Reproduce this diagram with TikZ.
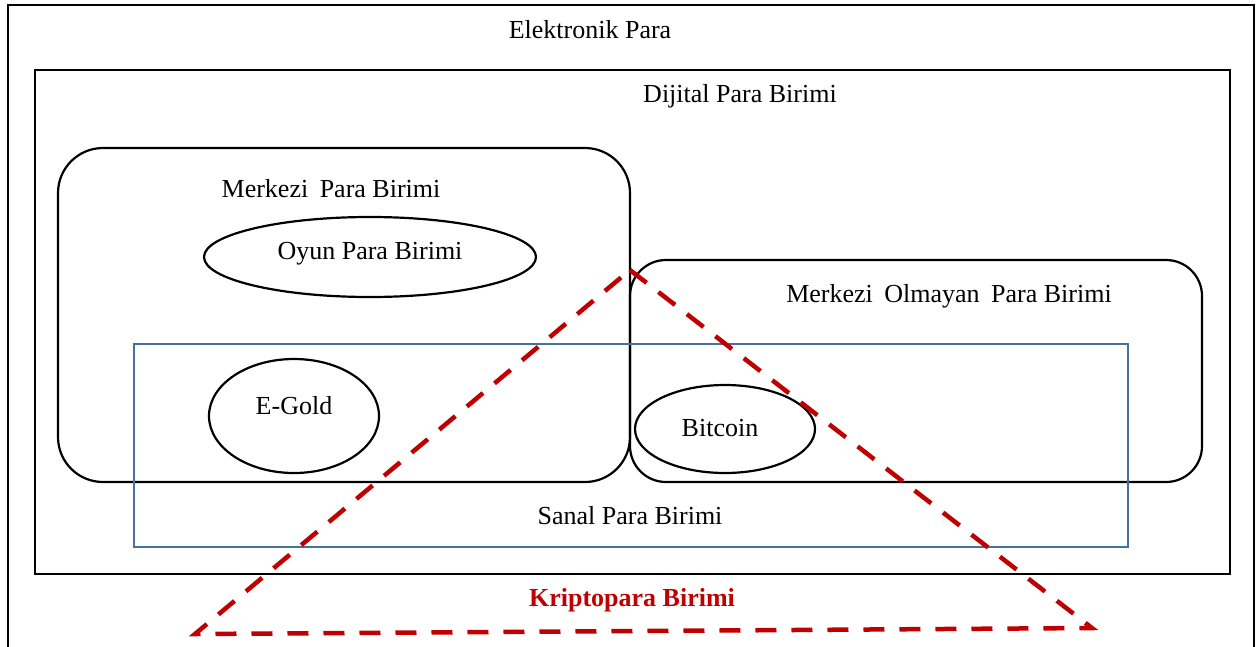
\documentclass[tikz,border=0pt]{standalone}
\usepackage{fontspec}
\setmainfont{Liberation Serif}
\usetikzlibrary{shapes.geometric}
\definecolor{cryptored}{RGB}{192,0,0}
\definecolor{virtualblue}{RGB}{70,114,160}
\newcommand{\widegap}{\ \hspace{5pt}}
\tikzset{
  label text/.style={font=\fontsize{26}{31}\selectfont, inner sep=0pt, anchor=center},
  frame/.style={draw=black, line width=2.6pt, inner sep=0pt},
  group box/.style={draw=black, line width=2.2pt, rectangle, inner sep=0pt},
  coin/.style={draw=black, line width=2.2pt, ellipse, inner sep=0pt},
  crypto/.style={draw=cryptored, line width=4.5pt, dash pattern=on 21pt off 15pt},
}
\begin{document}
\begin{tikzpicture}[x=1pt,y=-1pt]
  \useasboundingbox (0,0) rectangle (1260,646);
  \clip (0,0) rectangle (1260,646);
  \fill[white] (0,0) rectangle (1260,646);

  % nested frames
  \node[frame, minimum width=1246pt, minimum height=670pt] (emoney) at (631,340) {};
  \node[frame, minimum width=1195pt, minimum height=504pt] (digital) at (632.5,322) {};

  % centralised / decentralised currency groups
  \node[group box, rounded corners=45pt, minimum width=572pt, minimum height=334pt] (central) at (344,315) {};
  \node[group box, rounded corners=36pt, minimum width=572pt, minimum height=222pt] (decentral) at (916,371) {};

  % virtual currency frame
  \node[draw=virtualblue, line width=1.6pt, rectangle, inner sep=0pt, minimum width=994pt, minimum height=203pt] (virtual) at (631,445.5) {};

  % currencies
  \node[coin, minimum width=332pt, minimum height=80pt] (game) at (370,257) {};
  \node[coin, minimum width=170pt, minimum height=114pt] (egold) at (294,416) {};
  \node[coin, minimum width=180pt, minimum height=88pt] (bitcoin) at (725,429) {};

  % labels
  \node[label text] (tEmoney) at (590,30) {Elektronik Para};
  \node[label text] (tDigital) at (740,96) {Dijital Para Birimi};
  \node[label text] (tCentral) at (331,189) {Merkezi\widegap Para Birimi};
  \node[label text] (tGame) at (370,254) {Oyun Para Birimi};
  \node[label text] (tDecentral) at (949,296) {Merkezi\widegap Olmayan\widegap Para Birimi};
  \node[label text] (tEgold) at (294,406) {E-Gold};
  \node[label text] (tBitcoin) at (720,428) {Bitcoin};
  \node[label text] (tVirtual) at (630,516) {Sanal Para Birimi};
  \node[label text, font=\fontsize{26}{31}\selectfont\bfseries, text=cryptored] (tCrypto) at (632,600) {Kriptopara\ Birimi};

  % cryptocurrency triangle
  \coordinate (apex) at (630,270);
  \coordinate (baseL) at (195,634);
  \coordinate (baseR) at (1092,628);
  \draw[crypto] (apex) -- (baseR) -- (baseL) -- cycle;
\end{tikzpicture}
\end{document}
